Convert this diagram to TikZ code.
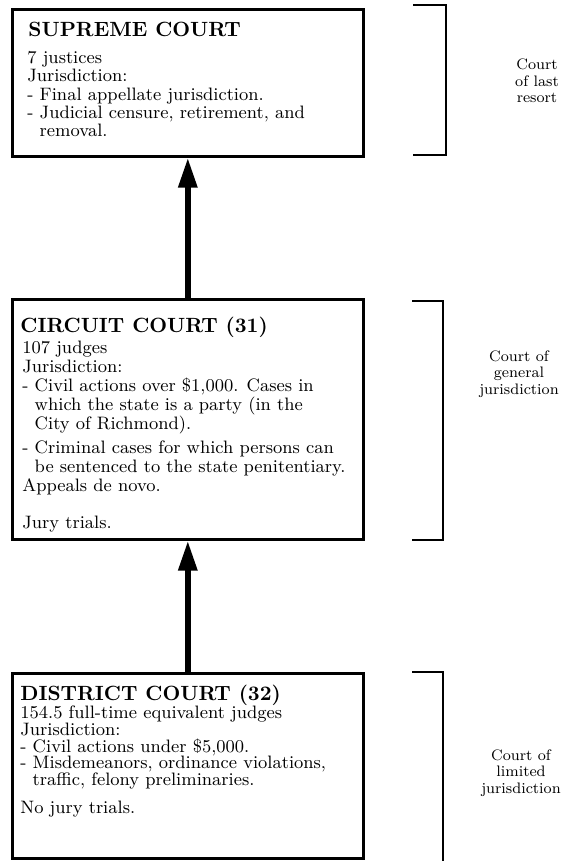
\documentclass[tikz,border=0pt]{standalone}
\usetikzlibrary{arrows.meta, positioning}

\begin{document}
\begin{tikzpicture}[x=0.5pt, y=-0.5pt,
    court/.style={rectangle, draw=black, line width=1.3pt, anchor=north west, inner sep=0pt, minimum width=175.5pt},
    heading/.style={anchor=base west, inner sep=0pt, font=\fontsize{10.3}{12}\selectfont\bfseries},
    details/.style={anchor=north west, inner sep=0pt, align=left},
    tier/.style={align=center, inner sep=0pt, font=\fontsize{7.6}{8.3}\selectfont},
    bracket/.style={line width=1.3pt},
    appeal/.style={-{Triangle[length=15pt, width=9pt]}, line width=3pt}
]
    \useasboundingbox (0,0) rectangle (575,861);

    % Courts
    \node[court, minimum height=73.5pt] (supreme) at (11,8) {};
    \node[court, minimum height=120pt] (circuit) at (11,298) {};
    \node[court, minimum height=92.5pt] (district) at (11,672) {};

    \node[heading] (supreme_title) at (28,37) {SUPREME COURT};
    \node[details, font=\fontsize{9}{9.15}\selectfont] (supreme_text) at (27,51) {7 justices\\
        Jurisdiction:\\
        - Final appellate jurisdiction.\\
        - Judicial censure, retirement, and\\
        \phantom{- }removal.};

    \node[heading] (circuit_title) at (20,332) {CIRCUIT COURT (31)};
    \node[details, font=\fontsize{9}{9.5}\selectfont] (circuit_text) at (22,340.5) {107 judges\\
        Jurisdiction:\\
        - Civil actions over \$1,000. Cases in\\
        \phantom{- }which the state is a party (in the\\
        \phantom{- }City of Richmond).\\[2.5pt]
        - Criminal cases for which persons can\\
        \phantom{- }be sentenced to the state penitentiary.\\
        Appeals de novo.\\[9pt]
        Jury trials.};

    \node[heading] (district_title) at (20,700) {DISTRICT COURT (32)};
    \node[details, font=\fontsize{9}{8.4}\selectfont] (district_text) at (20,705.5) {154.5 full-time equivalent judges\\
        Jurisdiction:\\
        - Civil actions under \$5,000.\\
        - Misdemeanors, ordinance violations,\\
        \phantom{- }traffic, felony preliminaries.\\[5.5pt]
        No jury trials.};

    % Appeals
    \draw[appeal] (circuit.north) -- (supreme.south);
    \draw[appeal] (district.north) -- (circuit.south);

    % Levels
    \draw[bracket] (413,5) -- (446,5) -- (446,155) -- (413,155);
    \draw[bracket] (412,301) -- (443,301) -- (443,540) -- (412,540);
    \draw[bracket] (412,672) -- (443,672) -- (443,861);

    \node[tier] (last_resort) at (537,81) {Court\\of last\\resort};
    \node[tier] (general) at (519,374) {Court of\\general\\jurisdiction};
    \node[tier] (limited) at (521,773) {Court of\\limited\\jurisdiction};

\end{tikzpicture}
\end{document}
